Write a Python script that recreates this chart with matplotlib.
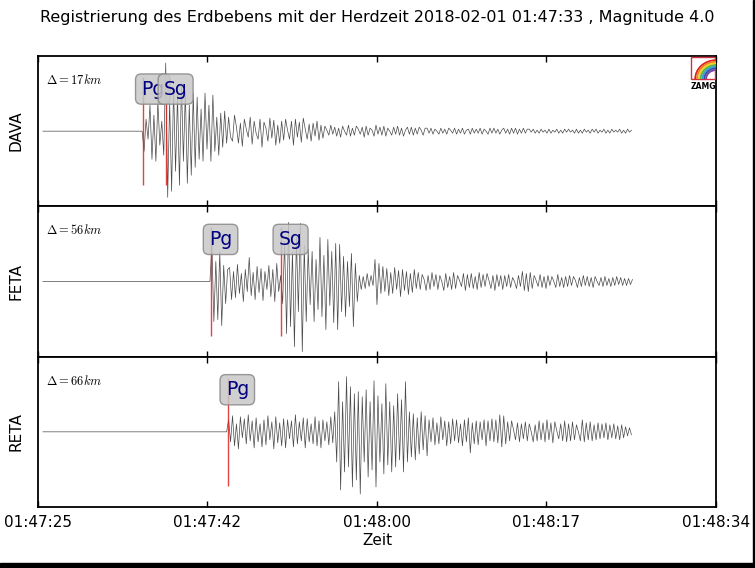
import numpy as np
import matplotlib.pyplot as plt
from matplotlib.patches import Rectangle, Arc

plt.rcParams['mathtext.fontset'] = 'cm'

TITLE = 'Registrierung des Erdbebens mit der Herdzeit 2018-02-01 01:47:33 , Magnitude 4.0'
STATIONS = ['DAVA', 'FETA', 'RETA']
DISTANCES = [17, 56, 66]
TICK_LABELS = ['01:47:25', '01:47:42', '01:48:00', '01:48:17', '01:48:34']
T_END = 69.0          # seconds after 01:47:25
TRACE_START = 0.5
DT = 0.2
ONSETS = [10.6, 17.5, 19.2]
PICK_NAMES = [['Pg', 'Sg'], ['Pg', 'Sg'], ['Pg']]
PICK_TIMES = [[10.7, 13.0], [17.6, 24.7], [19.3]]

# amplitudes (scaled to panel pixels), one value every DT seconds after onset
DAVA = [0, -20, 12, -8, 26, -28, 16, -30, 30, -14, 10, -24,
        68, -66, 30, -60, 44, -40, 36, -54, 48, -30, 40, -52, 26, -44, 38, -36,
        34, -28, 22, -30, 38, -18, 26, -30, 36, -20, 14, -24, 18, -16, 20, -12,
        14, -6, -10, 16, 4, -12, 8, -15, 12, 2, -6, 14, -13, 10, -2, -8, 12, -16, 9, 3, -10, 13, -7, 11, -14, 6,
        -12, 10, -9, 12, 1, -8, 10, -14, 12, -6, 9, -11, 13, 2, -8, 7, -10, 8, -5, 10, -9, 6, -7,
        5, 1, -4, 6, -3, 4, -5, 3, -6, 5, 0, -4, 6, -5, 3, -4, 5, 2, -3, 4, -6, 5, -4, 3, 1, -5, 6, -3, 4, -4,
        5, -5, 3, 0, -4, 4, -3, 5, -4, 3, -5, 1, 4, -3, 4, -4, 3, -3, 4, 1, -4, 3,
        3, -2, 3, -3, 2, 0, -3, 3, -2, 2, -3, 3, 1, -2, 3, -3, 2, -2, 3, -3, 1, 2, -3, 3, -2, 2,
        -2, 3, -3, 2, 0, -3, 3, -2, 3, -2, 2, -3, 1, 3, -2, 2, -3, 3, -2, 3, -3, 2, -2, 3, -2, 2,
        2, -1, 2, -2, 1, -2, 2, -1, 1, -2, 2, -2, 1, -1, 2, -2, 1, -2, 2, -1, 2, -1, 1, -2, 2, -2, 1, -2, 2, -1,
        1, -2, 2, -1, 2, -2, 1, -1, 2, -2, 1, -2, 2, -1, 1, -1, 2, -2, 1, -2, 2, -1, 1]

FETA = [0, 36, -40, 20, -38, 30, -44, 16, -22, 12,
        14, -18, 10, -16, 17, -12, 8, -20, 12, -10, 24, -14, 9, -18, 15, -11, 13, -19, 10, -8, 16, -15, 12,
        -20, 18, -10,
        6, -22, 40, -52, 59, -45, 30, -65, 44, -30, 58, -70, 36, -40, 32,
        -23, 30, -40, 22, -28, 44, -35, 26, -48, 42, -24, 30, -41, 38, -48, 37, -30, 25, -35, 20, -25, 28, -45, 18, -20,
        6, -8, 5, -7, 8, -5, 6, -4,
        22, -23, 18,
        -12, 15, -10, 13, -14, 9, -12, 14, -8, 11, -15, 12, -9, 10, -13, 8, -11, 12, -7, 9,
        -8, 7, 2, -9, 6, -8, 9, -5, 7, -8, 6, 0, -9, 8, -6, 5, -8, 9, -7, 6, 1, -5, 8, -9, 7, -6, 8, -7, 5, -8, 9,
        -6, 7, -5, 8, 1, -7, 6, -9, 7, -5, 6, -8,
        6, -5, 7, -6, 4, 0, -7, 6, -5, 10, -9, 8, -10, 9, -7, 6, 1, -5, 7, -6, 5, -7, 6, -4, 5, 0, -6, 7, -5, 4,
        -6, 5, -5, 6, -4, 5, 1, -6, 4, -5, 6, -4, 5, -5, 4, -6, 5, 0, -4, 4, -5, 5, -4, 3, -5, 4, -4, 5, -3, 4,
        -4, 3, -4, 3, -3, 2]

RETA = [0, 12, -10, 16, -14, 8, -17, 15, -6, 13, -12, 17, -9, 11, -16, 14, -10, 8, -15, 12, -13, 16,
        -8, 10, -17, 15, -11, 9, -14, 13, -16, 12, -7, 11, -15, 17, -12, 10, -9, 14, -16, 13, -10, 8,
        -12, 15, -14, 11, -16, 12, -9, 10, -13, 15, -11,
        20, -30, 50, -58, 30, -40, 55, -35, 45, -55, 38, -48, 40, -62, 35, -30, 42, -45, 30, -38, 51, -55, 36, -30,
        28, -42, 48, -33, 30, -40, 26, -35, 38, -28, 32, -40, 50,
        -30, 20, -25, 18, -28, 14, -22, 20, -18, 16, -24,
        12, -10, 14, -13, 9, -12, 15, -8, 11, -14, 10, -12, 13, -9, 12, -11, 8, -14, 12, -10, 14, -21,
        9, -12, 11, -13, 10, -8, 12, -14, 11, -9, 13, -10, 12, -11, 17,
        -15, 16, -12, 10, -9, 11, 2, -8, 9, -10, 8, -7, 10, -9, 8, 0, -10, 7, -9, 11, -8, 9, -10, 12, -8, 9,
        -11, 10, 1, -7, 8, -9, 11, -10, 8, -9, 10, -8, 7, 0, -9, 12, -10, 9, -8, 10, -9, 7, -8, 9, -7, 8,
        -6, 9, -8, 7, -6, 8, -7, 6, -8, 7, -6, 5, -4, 4, -3]

TRACES = [DAVA, FETA, RETA]

fig, axes = plt.subplots(3, 1, sharex=True, figsize=(7.55, 5.68), dpi=100)
fig.subplots_adjust(left=0.0503, right=0.9483, top=0.9014, bottom=0.1074, hspace=0)

for i, ax in enumerate(axes):
    vals = np.array(TRACES[i], dtype=float)
    t = ONSETS[i] + DT * np.arange(len(vals))
    t = np.concatenate([[TRACE_START], t])
    vals = np.concatenate([[0.0], vals])
    ax.plot(t, vals, color='#4a4a4a', lw=0.5, zorder=2)

    for name, tp in zip(PICK_NAMES[i], PICK_TIMES[i]):
        ax.vlines(tp, -54, 54, color='#dd2222', lw=1.0, alpha=0.85, zorder=3)
        ax.text(tp - 0.2, 42, name, ha='left', va='center', fontsize=13.5, color='#000080', zorder=4,
                bbox=dict(boxstyle='round,pad=0.3', facecolor='#c8c8c8', edgecolor='#888888', alpha=0.85))

    ax.text(0.012, 0.84, r'$\Delta=%dkm$' % DISTANCES[i], transform=ax.transAxes, fontsize=9,
            ha='left', va='center')
    ax.set_ylim(-75, 75)
    ax.set_yticks([])
    ax.set_ylabel(STATIONS[i], fontsize=11)
    ax.yaxis.set_label_coords(-0.022, 0.5)
    ax.tick_params(axis='x', direction='in', top=True, bottom=True, length=4, width=1)
    for s in ax.spines.values():
        s.set_linewidth(1.3)

axes[-1].set_xlim(0, T_END)
axes[-1].set_xticks(np.linspace(0, T_END, len(TICK_LABELS)))
axes[-1].set_xticklabels(TICK_LABELS, fontsize=11)
axes[-1].tick_params(axis='x', pad=6)
axes[-1].set_xlabel('Zeit', fontsize=11, labelpad=2)

fig.text(0.5, 0.970, TITLE, ha='center', va='center', fontsize=11.5)

# ZAMG logo
lax = fig.add_axes([690 / 755, 1 - 90 / 568, 26 / 755, 34 / 568])
lax.set_xlim(0, 1)
lax.set_ylim(0, 1.3)
lax.axis('off')
lax.add_patch(Rectangle((0.05, 0.42), 0.9, 0.85, fill=False, edgecolor='#d03040', lw=1))
for k, c in enumerate(['#e02020', '#f08020', '#f0d020', '#60b040', '#30a0d0', '#3050b0', '#8040a0']):
    r = 0.8 - k * 0.07
    lax.add_patch(Arc((1.0, 0.42), 2 * r, 2 * r * 0.9, theta1=90, theta2=180, color=c, lw=1.3))
lax.text(0.5, 0.15, 'ZAMG', ha='center', va='center', fontsize=5.5, fontweight='bold')

# dark frame edges of the image
fig.add_artist(Rectangle((0, 0), 1, 5 / 568, transform=fig.transFigure, color='black'))
fig.add_artist(Rectangle((1 - 2 / 755, 0), 2 / 755, 1, transform=fig.transFigure, color='black'))

fig.savefig('out.png', dpi=100)
